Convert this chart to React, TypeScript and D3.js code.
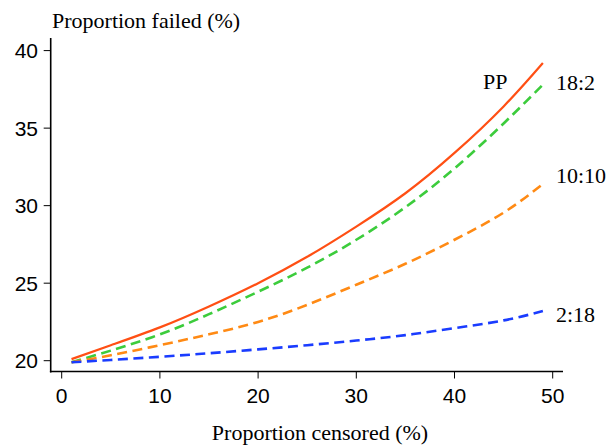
import React from "react";
import * as d3 from "d3";

const xValues = [1, 5, 10, 15, 20, 25, 30, 35, 40, 45, 49];
const ppValues = [20.1, 21.0, 22.15, 23.5, 25.0, 26.7, 28.65, 30.8, 33.4, 36.4, 39.2];
const s18_2 = [19.9, 20.65, 21.7, 23.0, 24.45, 26.0, 27.8, 29.9, 32.4, 35.3, 37.8];
const s10_10 = [19.9, 20.35, 21.0, 21.7, 22.5, 23.6, 24.9, 26.25, 27.8, 29.55, 31.4];
const s2_18 = [19.9, 20.05, 20.25, 20.48, 20.73, 21.0, 21.3, 21.65, 22.1, 22.6, 23.2];
const xTicks = [0, 10, 20, 30, 40, 50];
const yTicks = [20, 25, 30, 35, 40];
const seriesNames = ["PP", "18:2", "10:10", "2:18"];

const W = 608;
const H = 445;

export default function App() {
  const x = d3.scaleLinear().domain([0, 50]).range([61.7, 552.7]);
  const y = d3.scaleLinear().domain([20, 40]).range([360.7, 50.6]);
  const line = d3
    .line<number>()
    .x((_, i) => x(xValues[i]))
    .y((d) => y(d))
    .curve(d3.curveNatural);

  const series = [
    { name: seriesNames[0], values: ppValues, color: "#ff4f14", dash: "", w: 2.2 },
    { name: seriesNames[1], values: s18_2, color: "#3ccc3c", dash: "10,5.5", w: 2.6 },
    { name: seriesNames[2], values: s10_10, color: "#ff8a14", dash: "10,5.5", w: 2.6 },
    { name: seriesNames[3], values: s2_18, color: "#1a3cff", dash: "10,5.5", w: 2.6 },
  ];

  const axisLeftX = 50.7;
  const axisBottomY = 371.5;
  const serif = "'Liberation Serif', 'Times New Roman', serif";
  const sans = "'Liberation Sans', Arial, sans-serif";

  return (
    <svg
      width={W}
      height={H}
      style={{ position: "absolute", left: 0, top: 0, display: "block", background: "#fff" }}
    >
      <rect x={0} y={0} width={W} height={H} fill="#fff" />
      <line x1={axisLeftX} x2={axisLeftX} y1={38} y2={axisBottomY + 1} stroke="#000" strokeWidth={1.6} />
      {yTicks.map((t) => (
        <g key={"y" + t}>
          <line x1={axisLeftX - 7} x2={axisLeftX} y1={y(t)} y2={y(t)} stroke="#000" strokeWidth={1} />
          <text x={38} y={y(t) + 7.5} textAnchor="end" fontFamily={sans} fontSize={21} fill="#000">
            {t}
          </text>
        </g>
      ))}
      <line x1={axisLeftX - 0.8} x2={563} y1={axisBottomY} y2={axisBottomY} stroke="#000" strokeWidth={1.6} />
      {xTicks.map((t) => (
        <g key={"x" + t}>
          <line x1={x(t)} x2={x(t)} y1={axisBottomY} y2={axisBottomY + 7} stroke="#000" strokeWidth={1} />
          <text x={x(t)} y={403} textAnchor="middle" fontFamily={sans} fontSize={21} fill="#000">
            {t}
          </text>
        </g>
      ))}
      {series.map((s) => (
        <path
          key={s.name}
          d={line(s.values) || ""}
          fill="none"
          stroke={s.color}
          strokeWidth={s.w}
          strokeDasharray={s.dash || undefined}
        />
      ))}
      <text x={483} y={89} fontFamily={serif} fontSize={22} fill="#000">PP</text>
      <text x={556} y={90} fontFamily={serif} fontSize={22} fill="#000">{seriesNames[1]}</text>
      <text x={556} y={183} fontFamily={serif} fontSize={22} fill="#000">{seriesNames[2]}</text>
      <text x={556} y={322} fontFamily={serif} fontSize={22} fill="#000">{seriesNames[3]}</text>
      <text x={52} y={28} fontFamily={serif} fontSize={22} fill="#000">Proportion failed (%)</text>
      <text x={320} y={440} textAnchor="middle" fontFamily={serif} fontSize={22} fill="#000">
        Proportion censored (%)
      </text>
    </svg>
  );
}
